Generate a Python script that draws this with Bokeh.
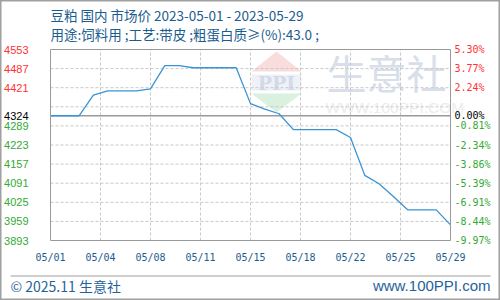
import pandas as pd
from bokeh.plotting import figure
from bokeh.models import Range1d, ColumnDataSource, Label, PolyAnnotation
from bokeh.core.properties import value
from bokeh.embed import file_html
from bokeh.resources import INLINE

# ---------------- data ----------------
dates = [f"2023-05-{d:02d}" for d in range(1, 30)]
prices = [4324, 4324, 4324, 4395, 4410, 4410, 4410, 4417, 4497, 4497,
          4490, 4490, 4490, 4490, 4366, 4347, 4331, 4276, 4276, 4276,
          4276, 4249, 4118, 4089, 4045, 3999, 3999, 3999, 3947]
base_price = 4324
y_ticks = [4553, 4487, 4421, 4324, 4289, 4223, 4157, 4091, 4025, 3959, 3893]
pct_labels = ["5.30%", "3.77%", "2.24%", "0.00%", "-0.81%", "-2.34%",
              "-3.86%", "-5.39%", "-6.91%", "-8.44%", "-9.97%"]
grid_values = [4487, 4421, 4355, 4289, 4223, 4157, 4091, 4025, 3959]
x_tick_labels = ["05/01", "05/04", "05/08", "05/11", "05/15", "05/18",
                 "05/22", "05/25", "05/29"]
title1 = "豆粕 国内 市场价 2023-05-01 - 2023-05-29"
title2 = "用途:饲料用 ;工艺:带皮 ;粗蛋白质≥(%):43.0 ;"
footer_left = "© 2025.11 生意社"
footer_right = "www.100PPI.com"

# ---------------- layout ----------------
W, H = 500, 300
L, R, T, B = 50, 450, 49, 240
y_min, y_max = min(y_ticks), max(y_ticks)
t = pd.to_datetime(dates)
xs = list((t - t[0]).days)
x_min, x_max = xs[0], xs[-1]
ppx = (R - L) / (x_max - x_min)
ppy = (B - T) / (y_max - y_min)

p = figure(width=W, height=H, output_backend="svg", toolbar_location=None,
           x_axis_location=None, y_axis_location=None, min_border=0,
           x_range=Range1d(x_min - L / ppx, x_max + (W - R) / ppx),
           y_range=Range1d(y_min - (H - B) / ppy, y_max + T / ppy))
p.grid.visible = False
p.outline_line_color = "#a0a0a0"
p.outline_line_width = 2
p.background_fill_color = "white"
p.border_fill_color = "white"

def sy(y):  # screen y measured from top
    return H - y

# ---- watermark ----
p.add_layout(PolyAnnotation(xs=[251, 276, 301], ys=[sy(71), sy(51), sy(71)],
                            xs_units="screen", ys_units="screen",
                            fill_color="#f9dcdc", fill_alpha=1, line_color=None,
                            level="underlay"))
p.add_layout(PolyAnnotation(xs=[251, 301, 276], ys=[sy(93), sy(93), sy(112)],
                            xs_units="screen", ys_units="screen",
                            fill_color="#daf1df", fill_alpha=1, line_color=None,
                            level="underlay"))
p.add_layout(PolyAnnotation(xs=[251, 301, 301, 251], ys=[sy(74), sy(74), sy(90), sy(90)],
                            xs_units="screen", ys_units="screen",
                            fill_color="#eef1f7", fill_alpha=1, line_color=None,
                            level="underlay"))
p.add_layout(Label(x=276, y=sy(82), x_units="screen", y_units="screen", text="PPI",
                   text_font="DejaVu Serif", text_font_size="19px", text_font_style="bold",
                   text_color="#d2daea", text_align="center", text_baseline="middle",
                   level="underlay"))
p.add_layout(Label(x=326, y=sy(71), x_units="screen", y_units="screen", text="生意社",
                   text_font="Noto Sans CJK SC", text_font_size="40px",
                   text_color="#d8deea", text_align="left", text_baseline="middle",
                   level="underlay"))
p.add_layout(Label(x=325, y=sy(107), x_units="screen", y_units="screen", text="WWW.100PPI.COM",
                   text_font="Liberation Sans", text_font_size="15.5px",
                   text_color="#ececec", text_align="left", text_baseline="middle",
                   level="underlay"))

# ---- grid ----
n = len(x_tick_labels)
x_tick_pos = [x_min + i * (x_max - x_min) / (n - 1) for i in range(n)]
p.segment(x0=x_min, x1=x_max, y0=grid_values, y1=grid_values,
          line_color="#c8c8c8", line_width=1, line_dash="3 2")
p.segment(x0=x_tick_pos[1:-1], x1=x_tick_pos[1:-1], y0=y_min, y1=y_max,
          line_color="#c8c8c8", line_width=1, line_dash="3 2")
p.segment(x0=[x_min], x1=[x_max], y0=[base_price], y1=[base_price],
          line_color="#999999", line_width=1.6)

# ---- price line ----
src = ColumnDataSource(dict(x=xs, price=prices))
p.line("x", "price", source=src, line_color="#3a94d2", line_width=1.3)

# plot box
p.quad(left=[x_min], right=[x_max], bottom=[y_min], top=[y_max],
       fill_color=None, line_color="#999999", line_width=1)

# ---- tick labels ----
colors = ["#ff3333" if v > base_price else ("#000000" if v == base_price else "#33aa33")
          for v in y_ticks]
lab = ColumnDataSource(dict(y=y_ticks, txt=[str(v) for v in y_ticks], pct=pct_labels,
                            c=colors, xl=[x_min] * len(y_ticks), xr=[x_max] * len(y_ticks)))
p.text(x="xl", y="y", text="txt", source=lab, text_color="c", text_align="right",
       text_baseline="middle", x_offset=-22, text_font=value("Liberation Sans"),
       text_font_size="11px")
p.text(x="xr", y="y", text="pct", source=lab, text_color="c", text_align="left",
       text_baseline="middle", x_offset=4, text_font=value("DejaVu Sans Mono"),
       text_font_size="10px")
p.text(x=x_tick_pos, y=[y_min] * n, text=x_tick_labels, text_color="#1a5d8f",
       text_align="center", text_baseline="middle", y_offset=17,
       text_font=value("DejaVu Sans Mono"), text_font_size="10px")

# ---- titles ----
p.add_layout(Label(x=50, y=sy(14), x_units="screen", y_units="screen", text=title1,
                   text_font="Noto Sans CJK SC", text_font_size="13.5px",
                   text_color="#1a5d8f", text_baseline="middle"))
p.add_layout(Label(x=50, y=sy(33), x_units="screen", y_units="screen", text=title2,
                   text_font="Noto Sans CJK SC", text_font_size="13.5px",
                   text_color="#1a5d8f", text_baseline="middle"))

# ---- footer ----
p.add_layout(PolyAnnotation(xs=[10, 490, 490, 10], ys=[sy(275), sy(275), sy(276), sy(276)],
                            xs_units="screen", ys_units="screen",
                            fill_color="#a0a0a0", fill_alpha=1, line_color=None))
p.add_layout(Label(x=10, y=sy(285), x_units="screen", y_units="screen", text=footer_left,
                   text_font="Noto Sans CJK SC", text_font_size="14px",
                   text_color="#1f639a", text_baseline="middle"))
p.add_layout(Label(x=490, y=sy(285), x_units="screen", y_units="screen", text=footer_right,
                   text_font="Liberation Sans", text_font_size="15px",
                   text_color="#1f639a", text_baseline="middle", text_align="right"))

open("out.html", "w").write(file_html(p, INLINE))
